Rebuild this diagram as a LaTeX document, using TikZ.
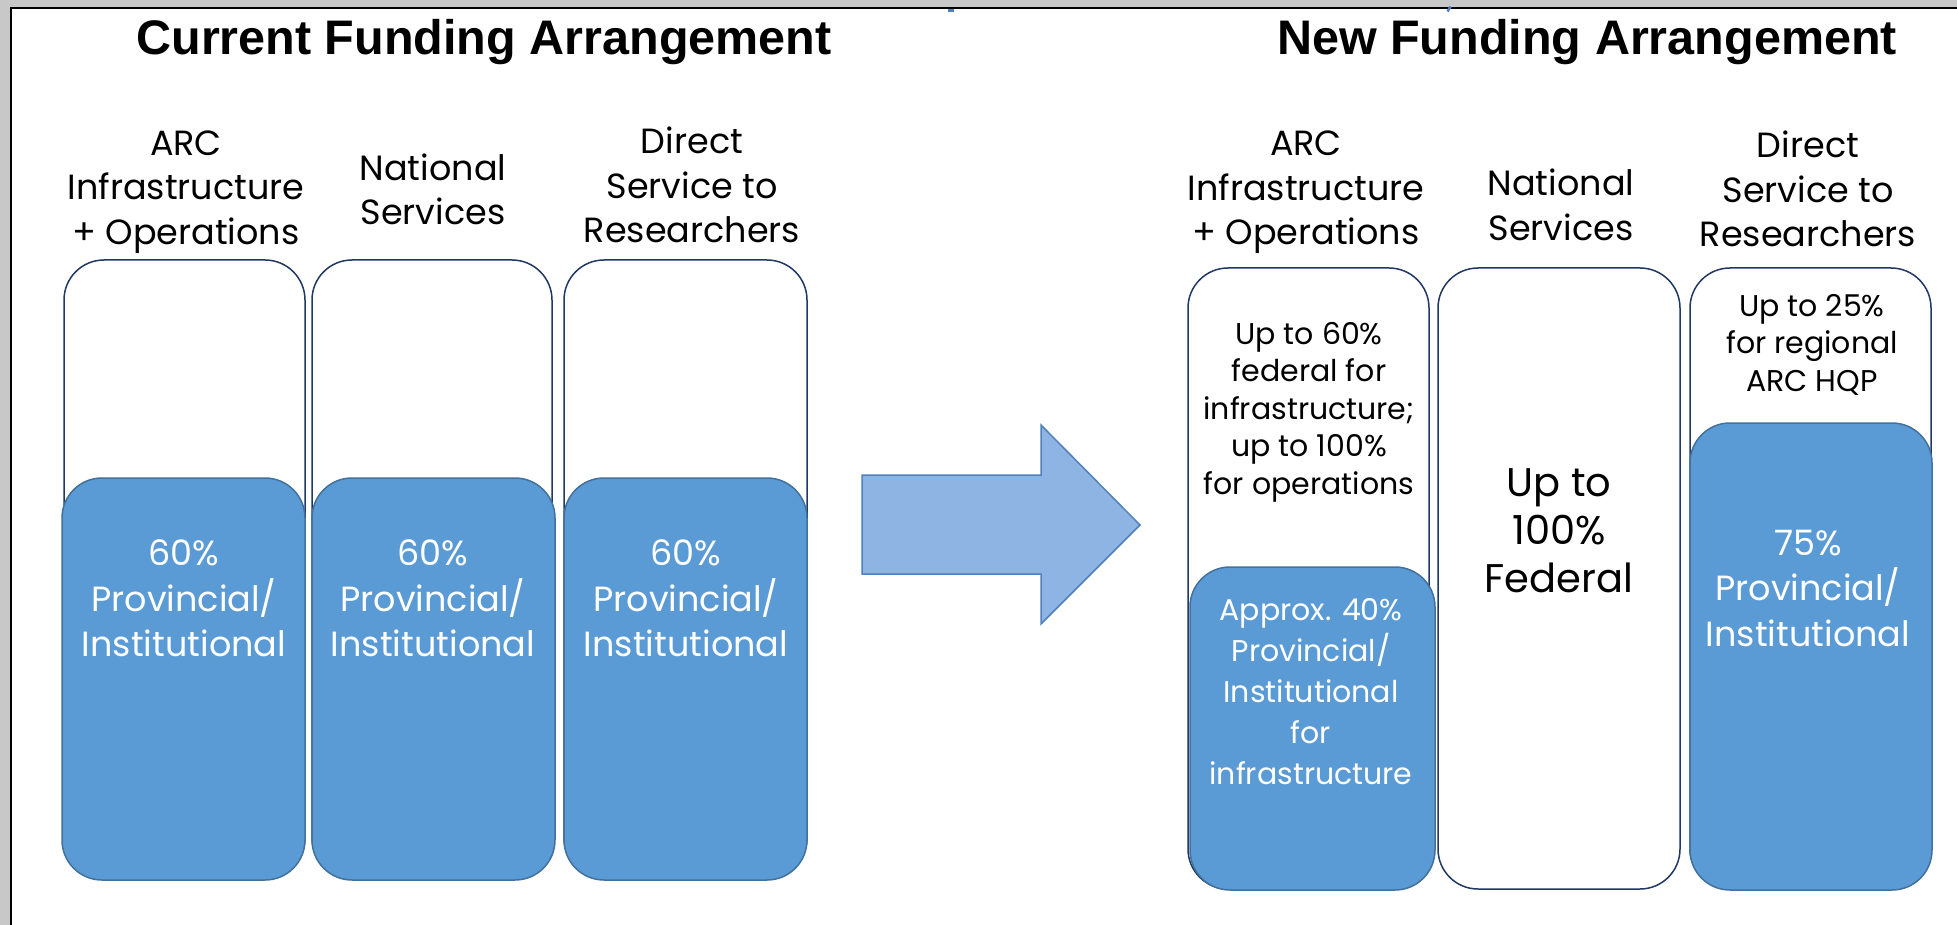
\documentclass[tikz,border=0pt]{standalone}
\usepackage{fontspec}
\setmainfont{Poppins}
\newfontfamily\headsans{Liberation Sans}

\definecolor{framegray}{HTML}{C8C8C8}
\definecolor{navy}{HTML}{203864}
\definecolor{fundblue}{HTML}{5B9BD5}
\definecolor{fundedge}{HTML}{41719C}
\definecolor{arrowfill}{HTML}{8EB4E3}
\definecolor{arrowedge}{HTML}{4F81BD}

\tikzset{
	outerbox/.style={draw=navy, line width=1.5pt, rounded corners=40pt, fill=white},
	fundbox/.style={draw=fundedge, line width=1.5pt, rounded corners=40pt, fill=fundblue},
	heading/.style={font=\headsans\bfseries\fontsize{48.5}{58}\selectfont, inner sep=0pt},
	colname/.style={align=center, inner sep=0pt, font=\fontsize{35}{44.5}\selectfont},
	share/.style={align=center, inner sep=0pt, text=white, font=\fontsize{35}{45.5}\selectfont},
	note/.style={align=center, inner sep=0pt, font=\fontsize{30}{37.5}\selectfont},
}

\begin{document}
\begin{tikzpicture}[x=1pt, y=-1pt]
		\useasboundingbox (0,0) rectangle (1957,925);
		\fill[framegray] (0,0) rectangle (1957,7);
		\fill[framegray] (0,0) rectangle (10,925);
		\draw[line width=2.5pt] (11,925) -- (11,8) -- (1957,8);
		\fill[arrowedge] (948,9) rectangle (954,12);
		\draw[arrowedge, line width=2.5pt] (1450.5,6.5) -- (1447.5,11.5);
		
		% Current
		\node[heading] (curtitle) at (484,42) {Current Funding Arrangement};
		\draw[outerbox] (64,260) rectangle (305,877);
		\draw[outerbox] (312,260) rectangle (552,877);
		\draw[outerbox] (564,260) rectangle (807,877);
		\draw[fundbox] (62,478) rectangle (305,880);
		\draw[fundbox] (312,478) rectangle (555,880);
		\draw[fundbox] (564,478) rectangle (807,880);
		\node[colname] (curarc) at (186,192) {ARC\\Infrastructure\\+ Operations};
		\node[colname] (curnat) at (433,189.5) {National\\Services};
		\node[colname] (curdir) at (692,185) {Direct\\Service to\\Researchers};
		\node[share] (curarcpct) at (184,598.5) {60\%\\Provincial/\\Institutional};
		\node[share] (curnatpct) at (433,598.5) {60\%\\Provincial/\\Institutional};
		\node[share] (curdirpct) at (686,598.5) {60\%\\Provincial/\\Institutional};
		
		% Flecha
		\draw[arrowedge, fill=arrowfill, line width=1.5pt] (862,475) -- (1041,475) -- (1041,425)
			-- (1140,525) -- (1041,624) -- (1041,574) -- (862,574) -- cycle;
		
		% New
		\node[heading] (newtitle) at (1587,42) {New Funding Arrangement};
		\draw[outerbox] (1188,268) rectangle (1429,889);
		\draw[outerbox] (1438,268) rectangle (1680,889);
		\draw[outerbox] (1690,268) rectangle (1931,889);
		\draw[fundbox] (1190,567) rectangle (1435,890);
		\draw[fundbox] (1690,423) rectangle (1932,890);
		\node[colname] (newarc) at (1306,192.5) {ARC\\Infrastructure\\+ Operations};
		\node[colname] (newnat) at (1561,205) {National\\Services};
		\node[colname] (newdir) at (1808,189) {Direct\\Service to\\Researchers};
		\node[note] (newarcfed) at (1309,412) {Up to 60\%\\federal for\\infrastructure;\\up to 100\%\\for operations};
		\node[note, text=white, font=\fontsize{30}{41}\selectfont] (newarcpct) at (1311,691.5)
			{Approx. 40\%\\Provincial/\\Institutional\\for\\infrastructure};
		\node[align=center, inner sep=0pt, font=\fontsize{40}{48}\selectfont] (newfed) at (1559,531) {Up to\\100\%\\Federal};
		\node[note] (newdirhqp) at (1812,344.5) {Up to 25\%\\for regional\\ARC HQP};
		\node[share] (newdirpct) at (1808,588) {75\%\\Provincial/\\Institutional};
\end{tikzpicture}
\end{document}
